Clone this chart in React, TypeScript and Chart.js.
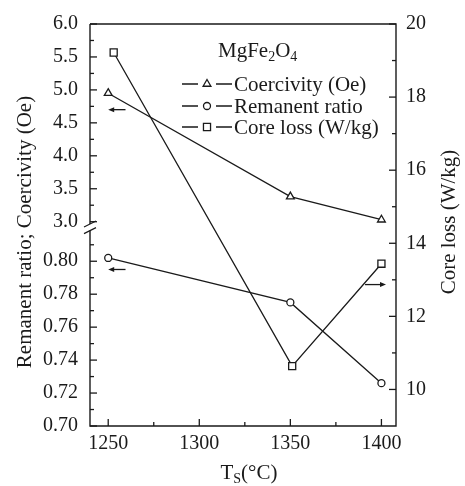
import React, { useEffect, useRef } from "react";
import { Chart, registerables } from "chart.js";
Chart.register(...registerables);

// ---- data ----
const temps = [1250, 1350, 1400];
const coreLossTemps = [1253, 1351, 1400];
const coercivity = [4.95, 3.38, 3.03];
const remanentRatio = [0.802, 0.775, 0.726];
const coreLoss = [19.22, 10.64, 13.44];

const seriesNames = ["Coercivity (Oe)", "Remanent ratio", "Core loss (W/kg)"];

const xMajorTicks = [1250, 1300, 1350, 1400];
const xMinorTicks = [1275, 1325, 1375];
const upperMajorTicks = [3.0, 3.5, 4.0, 4.5, 5.0, 5.5, 6.0];
const upperMinorTicks = [3.25, 3.75, 4.25, 4.75, 5.25, 5.75];
const lowerMajorTicks = [0.7, 0.72, 0.74, 0.76, 0.78, 0.8];
const lowerMinorTicks = [0.71, 0.73, 0.75, 0.77, 0.79, 0.81];
const rightMajorTicks = [10, 12, 14, 16, 18, 20];
const rightMinorTicks = [11, 13, 15, 17, 19];

// broken left axis: lower segment 0.70.., upper segment 3.0..6.0
const LOWER_MIN = 0.7;
const LOWER_STEP = 0.02;
const UPPER_BASE = 3.0;
const UPPER_STEP = 0.5;
const UPPER_OFFSET = 6.2;
const toV = (v: number) =>
  v > 2 ? UPPER_OFFSET + (v - UPPER_BASE) / UPPER_STEP : (v - LOWER_MIN) / LOWER_STEP;
const fromV = (u: number) =>
  u > 6.1 ? (UPPER_BASE + (u - UPPER_OFFSET) * UPPER_STEP).toFixed(1) : (LOWER_MIN + u * LOWER_STEP).toFixed(2);

const FONT = "'Liberation Serif', serif";
const INK = "#1a1a1a";

const drawArrow = (ctx: CanvasRenderingContext2D, x1: number, x2: number, y: number) => {
  const dir = Math.sign(x2 - x1);
  ctx.beginPath();
  ctx.moveTo(x1, y);
  ctx.lineTo(x2 - dir * 4, y);
  ctx.stroke();
  ctx.beginPath();
  ctx.moveTo(x2, y);
  ctx.lineTo(x2 - dir * 6, y - 2.5);
  ctx.lineTo(x2 - dir * 6, y + 2.5);
  ctx.closePath();
  ctx.fill();
};

function drawMarker(ctx: CanvasRenderingContext2D, style: string, x: number, y: number, r: number) {
  ctx.save();
  ctx.beginPath();
  if (style === "circle") {
    ctx.arc(x, y, r, 0, Math.PI * 2);
  } else if (style === "triangle") {
    for (let k = 0; k < 3; k++) {
      const a = -Math.PI / 2 + (k * 2 * Math.PI) / 3;
      const px = x + r * Math.cos(a);
      const py = y + r * Math.sin(a);
      k === 0 ? ctx.moveTo(px, py) : ctx.lineTo(px, py);
    }
    ctx.closePath();
  } else {
    const s = r * Math.SQRT1_2;
    ctx.rect(x - s, y - s, 2 * s, 2 * s);
  }
  ctx.fillStyle = "#ffffff";
  ctx.fill();
  ctx.strokeStyle = INK;
  ctx.lineWidth = 1.3;
  ctx.stroke();
  ctx.restore();
}

const decorPlugin = {
  id: "decor",
  afterDraw(chart: any) {
    const ctx: CanvasRenderingContext2D = chart.ctx;
    const { left, right, top, bottom } = chart.chartArea;
    const xs = chart.scales.x;
    const yl = chart.scales.yL;
    const yr = chart.scales.yR;
    ctx.save();
    ctx.strokeStyle = INK;
    ctx.fillStyle = INK;
    ctx.lineWidth = 1.4;

    // frame with break in the left axis
    const yBreakLow = yl.getPixelForValue(5.93);
    const yBreakHigh = yl.getPixelForValue(6.13);
    ctx.beginPath();
    ctx.moveTo(left, top);
    ctx.lineTo(right, top);
    ctx.lineTo(right, bottom);
    ctx.lineTo(left, bottom);
    ctx.lineTo(left, yBreakLow);
    ctx.moveTo(left, yBreakHigh);
    ctx.lineTo(left, top);
    ctx.stroke();
    ctx.lineWidth = 1.2;
    [yBreakLow, yBreakHigh].forEach((y) => {
      ctx.beginPath();
      ctx.moveTo(left - 6, y + 3);
      ctx.lineTo(left + 6, y - 3);
      ctx.stroke();
    });

    ctx.lineWidth = 1.3;
    const tickL = (v: number, len: number) => {
      const y = yl.getPixelForValue(toV(v));
      ctx.beginPath();
      ctx.moveTo(left, y);
      ctx.lineTo(left + len, y);
      ctx.stroke();
    };
    [...upperMajorTicks, ...lowerMajorTicks].forEach((v) => tickL(v, 7));
    [...upperMinorTicks, ...lowerMinorTicks].forEach((v) => tickL(v, 4));
    const tickR = (v: number, len: number) => {
      const y = yr.getPixelForValue(v);
      ctx.beginPath();
      ctx.moveTo(right, y);
      ctx.lineTo(right - len, y);
      ctx.stroke();
    };
    rightMajorTicks.forEach((v) => tickR(v, 7));
    rightMinorTicks.forEach((v) => tickR(v, 4));
    const tickB = (v: number, len: number) => {
      const x = xs.getPixelForValue(v);
      ctx.beginPath();
      ctx.moveTo(x, bottom);
      ctx.lineTo(x, bottom - len);
      ctx.stroke();
    };
    xMajorTicks.forEach((v) => tickB(v, 7));
    xMinorTicks.forEach((v) => tickB(v, 4));

    // arrows pointing to the axis of each series
    drawArrow(ctx, xs.getPixelForValue(1259.5), xs.getPixelForValue(1250), yl.getPixelForValue(toV(4.7)));
    drawArrow(ctx, xs.getPixelForValue(1259.5), xs.getPixelForValue(1250), yl.getPixelForValue(toV(0.795)));
    drawArrow(ctx, xs.getPixelForValue(1391), xs.getPixelForValue(1402.5), yr.getPixelForValue(12.87));

    // legend title MgFe2O4
    ctx.textBaseline = "alphabetic";
    ctx.textAlign = "left";
    let tx = 218;
    const ty = 57;
    const big = "21px 'Liberation Serif', serif";
    const small = "14px 'Liberation Serif', serif";
    const parts: [string, boolean][] = [["MgFe", false], ["2", true], ["O", false], ["4", true]];
    parts.forEach(([t, sub]) => {
      ctx.font = sub ? small : big;
      ctx.fillText(t, tx, sub ? ty + 4 : ty);
      tx += ctx.measureText(t).width;
    });

    // legend entries
    const rows = [84, 106, 127];
    const styles = ["triangle", "circle", "rect"];
    const radii = [4.5, 3.5, 5];
    rows.forEach((y, i) => {
      ctx.lineWidth = 1.3;
      ctx.strokeStyle = INK;
      ctx.beginPath();
      ctx.moveTo(182, y);
      ctx.lineTo(198, y);
      ctx.moveTo(216, y);
      ctx.lineTo(232, y);
      ctx.stroke();
      drawMarker(ctx, styles[i], 207, y, radii[i]);
      ctx.fillStyle = INK;
      ctx.font = big;
      ctx.textBaseline = "middle";
      ctx.fillText(seriesNames[i], 234, y + 1);
    });

    // axis titles
    ctx.fillStyle = INK;
    ctx.font = big;
    ctx.textAlign = "center";
    ctx.textBaseline = "middle";
    ctx.save();
    ctx.translate(25, 232);
    ctx.rotate(-Math.PI / 2);
    ctx.fillText("Remanent ratio; Coercivity (Oe)", 0, 0);
    ctx.restore();
    ctx.save();
    ctx.translate(449, 222);
    ctx.rotate(-Math.PI / 2);
    ctx.fillText("Core loss (W/kg)", 0, 0);
    ctx.restore();

    // x title T_S(°C)
    ctx.textAlign = "left";
    ctx.textBaseline = "alphabetic";
    const xt: [string, boolean][] = [["T", false], ["S", true], ["(°C)", false]];
    let total = 0;
    xt.forEach(([t, sub]) => {
      ctx.font = sub ? small : big;
      total += ctx.measureText(t).width;
    });
    let px = 249 - total / 2;
    const py = 479;
    xt.forEach(([t, sub]) => {
      ctx.font = sub ? small : big;
      ctx.fillText(t, px, sub ? py + 4 : py);
      px += ctx.measureText(t).width;
    });

    ctx.restore();
  },
};

export default function App() {
  const ref = useRef<HTMLCanvasElement | null>(null);
  useEffect(() => {
    let chart: any = null;
    let cancelled = false;
    const build = () => {
      if (cancelled || !ref.current) return;
      const common = {
        borderColor: INK,
        backgroundColor: "#ffffff",
        pointBackgroundColor: "#ffffff",
        pointBorderColor: INK,
        borderWidth: 1.3,
        pointBorderWidth: 1.3,
        showLine: true,
        tension: 0,
      };
      chart = new Chart(ref.current, {
        type: "scatter",
        data: {
          datasets: [
            {
              ...common,
              label: seriesNames[0],
              data: temps.map((t, i) => ({ x: t, y: toV(coercivity[i]) })),
              yAxisID: "yL",
              pointStyle: "triangle",
              pointRadius: 4.5,
            },
            {
              ...common,
              label: seriesNames[1],
              data: temps.map((t, i) => ({ x: t, y: toV(remanentRatio[i]) })),
              yAxisID: "yL",
              pointStyle: "circle",
              pointRadius: 3.5,
            },
            {
              ...common,
              label: seriesNames[2],
              data: coreLossTemps.map((t, i) => ({ x: t, y: coreLoss[i] })),
              yAxisID: "yR",
              pointStyle: "rect",
              pointRadius: 5,
            },
          ],
        },
        options: {
          animation: false,
          responsive: false,
          devicePixelRatio: 1,
          font: { family: FONT },
          layout: { padding: { top: 17, left: 0, right: 0, bottom: 0 } },
          plugins: { legend: { display: false }, tooltip: { enabled: false } },
          scales: {
            x: {
              type: "linear",
              min: 1240,
              max: 1408,
              grid: { display: false, drawTicks: false },
              border: { display: false },
              afterBuildTicks: (s: any) => {
                s.ticks = xMajorTicks.map((v) => ({ value: v }));
              },
              afterFit: (s: any) => {
                s.height = 60;
              },
              ticks: {
                autoSkip: false,
                maxRotation: 0,
                padding: 6,
                color: INK,
                font: { family: FONT, size: 20 },
                callback: (v: any) => String(v),
              },
            },
            yL: {
              type: "linear",
              position: "left",
              min: 0,
              max: 12.2,
              grid: { display: false, drawTicks: false },
              border: { display: false },
              afterBuildTicks: (s: any) => {
                s.ticks = [...lowerMajorTicks, ...upperMajorTicks].map((v) => ({ value: toV(v) }));
              },
              afterFit: (s: any) => {
                s.width = 90;
              },
              ticks: {
                autoSkip: false,
                padding: 12,
                color: INK,
                font: { family: FONT, size: 20 },
                callback: (v: any) => fromV(Number(v)),
              },
            },
            yR: {
              type: "linear",
              position: "right",
              min: 9,
              max: 20,
              grid: { display: false, drawTicks: false },
              border: { display: false },
              afterBuildTicks: (s: any) => {
                s.ticks = rightMajorTicks.map((v) => ({ value: v }));
              },
              afterFit: (s: any) => {
                s.width = 69;
              },
              ticks: {
                autoSkip: false,
                padding: 10,
                color: INK,
                font: { family: FONT, size: 20 },
                callback: (v: any) => String(v),
              },
            },
          },
        },
        plugins: [decorPlugin],
      } as any);
    };
    const t = setTimeout(build, 50);
    return () => {
      cancelled = true;
      clearTimeout(t);
      if (chart) chart.destroy();
    };
  }, []);
  return (
    <div style={{ position: "absolute", left: 0, top: 0, width: 465, height: 486, background: "#fff" }}>
      <span style={{ fontFamily: FONT, position: "absolute", left: 0, top: 0, color: "#fff", fontSize: 1 }}>.</span>
      <canvas
        ref={ref}
        width={465}
        height={486}
        style={{ position: "absolute", left: 0, top: 0, width: 465, height: 486 }}
      />
    </div>
  );
}
